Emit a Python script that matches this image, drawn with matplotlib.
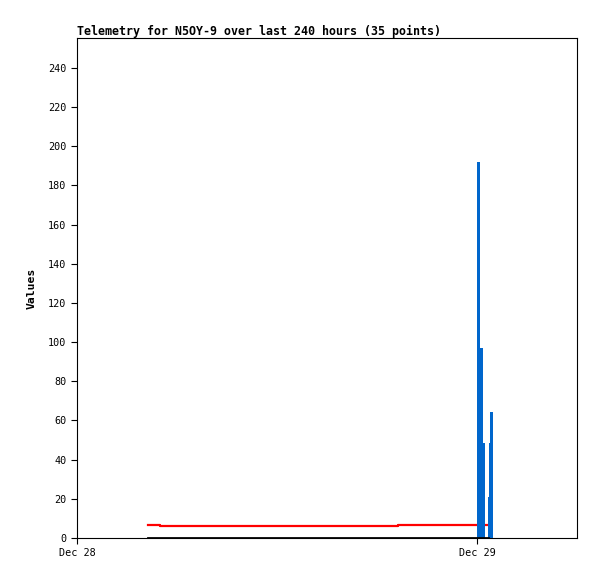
import matplotlib
matplotlib.use("Agg")
import matplotlib.pyplot as plt
import matplotlib.dates as mdates
import numpy as np
import pandas as pd

# ---- data ----
red_times = pd.to_datetime(["2023-12-28 04:16", "2023-12-28 04:41", "2023-12-28 04:59",
                            "2023-12-28 09:47", "2023-12-28 19:16", "2023-12-29 00:36"])
red_values = [6.8, 6.4, 6.0, 6.3, 6.8, 6.5]

black_times = pd.to_datetime(["2023-12-28 04:16", "2023-12-29 00:40"])
black_values = [0, 0]

blue_times = pd.to_datetime(["2023-12-29 00:00", "2023-12-29 00:10", "2023-12-29 00:19",
                             "2023-12-29 00:40", "2023-12-29 00:43", "2023-12-29 00:47"])
blue_values = [192, 97, 48.5, 21, 48.4, 64.5]

x_ticks = pd.to_datetime(["2023-12-28", "2023-12-29"])
x_tick_labels = ["Dec 28", "Dec 29"]
y_ticks = list(range(0, 241, 20))

title = "Telemetry for N5OY-9 over last 240 hours (35 points)"

# ---- plot ----
mono = "DejaVu Sans Mono"
fig = plt.figure(figsize=(5.97, 5.79), dpi=100)
ax = fig.add_axes([77/597, 41/579, 500/597, 500/579])

bar_w = 0.17 / 24.0  # days
ax.bar(blue_times, blue_values, width=bar_w, align="edge", color="#0066cc", zorder=3)
ax.plot(red_times, red_values, drawstyle="steps-post", color="#ff0000", lw=1.6, zorder=2)
ax.plot(black_times, black_values, color="black", lw=2.0, zorder=4)

ax.set_xlim(pd.Timestamp("2023-12-28 00:00"), pd.Timestamp("2023-12-29 06:00"))
ax.set_ylim(0, 255.3)
ax.set_xticks(x_ticks)
ax.set_xticklabels(x_tick_labels, fontfamily=mono, fontsize=7.3)
ax.set_yticks(y_ticks)
ax.set_yticklabels([str(v) for v in y_ticks], fontfamily=mono, fontsize=7.3)
ax.tick_params(direction="out", length=4.5, width=0.8, color="black", pad=3)
for s in ax.spines.values():
    s.set_linewidth(0.8)
    s.set_color("black")

ax.set_ylabel("Values", fontfamily=mono, fontweight="bold", fontsize=8.2, labelpad=8)
ax.set_title(title, loc="left", fontfamily=mono, fontweight="bold", fontsize=8.37, pad=2.5)

fig.savefig("out.png", dpi=100)
